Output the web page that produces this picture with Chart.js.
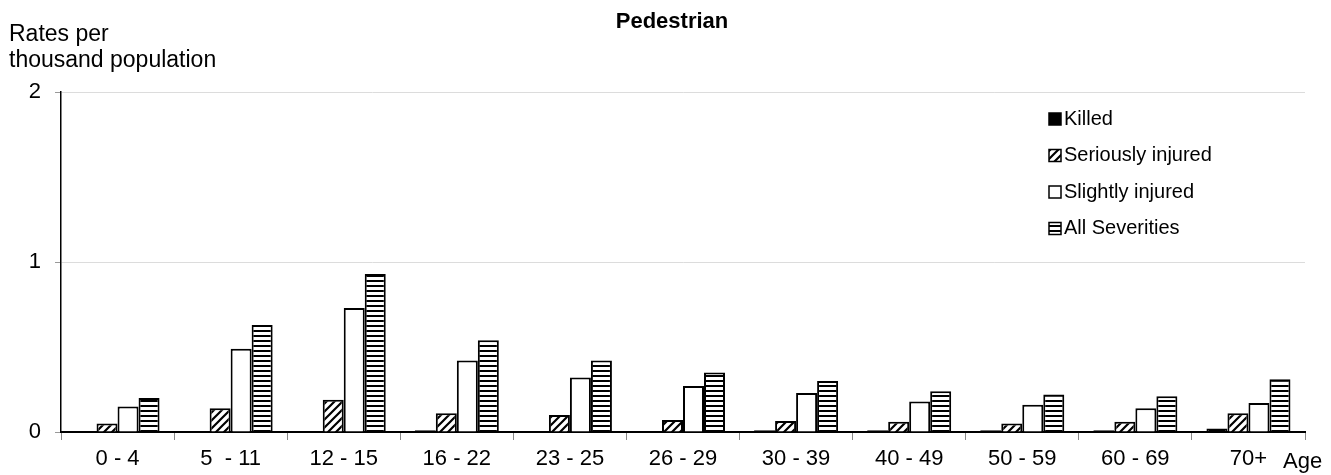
<!DOCTYPE html>
<html>
<head>
<meta charset="utf-8">
<script src="https://cdn.jsdelivr.net/npm/chart.js@4"></script>
<style>
  html, body { margin: 0; padding: 0; background: #fff; }
  #wrap { width: 1331px; height: 475px; }
</style>
</head>
<body>
<div id="wrap"><canvas id="PedChart" width="1331" height="475"></canvas></div>
<script>
const ageGroups = ['0 - 4', '5  - 11', '12 - 15', '16 - 22', '23 - 25', '26 - 29',
  '30 - 39', '40 - 49', '50 - 59', '60 - 69', '70+'];
const killed   = [0, 0, 0, 0.01, 0, 0, 0.01, 0.01, 0.01, 0.01, 0.02];
const serious  = [0.05, 0.14, 0.19, 0.11, 0.10, 0.07, 0.065, 0.06, 0.05, 0.06, 0.11];
const slight   = [0.15, 0.49, 0.73, 0.42, 0.32, 0.27, 0.23, 0.18, 0.16, 0.14, 0.17];
const allSev   = [0.20, 0.63, 0.93, 0.54, 0.42, 0.35, 0.30, 0.24, 0.22, 0.21, 0.31];
const yTicks   = [0, 1, 2];

const FONT = '"Liberation Sans", Arial, sans-serif';

function hatchPattern() {
  const c = document.createElement('canvas');
  c.width = 8; c.height = 8;
  const g = c.getContext('2d');
  g.fillStyle = '#fff'; g.fillRect(0, 0, 8, 8);
  g.strokeStyle = '#000'; g.lineWidth = 2.2;
  g.beginPath();
  g.moveTo(-2, 10); g.lineTo(10, -2);
  g.moveTo(-2, 2); g.lineTo(2, -2);
  g.moveTo(6, 10); g.lineTo(10, 6);
  g.stroke();
  return g.createPattern(c, 'repeat');
}

function stripePattern() {
  const c = document.createElement('canvas');
  c.width = 5; c.height = 5;
  const g = c.getContext('2d');
  g.fillStyle = '#fff'; g.fillRect(0, 0, 5, 5);
  g.fillStyle = '#000'; g.fillRect(0, 0, 5, 2);
  return g.createPattern(c, 'repeat');
}

const ctx = document.getElementById('PedChart').getContext('2d');
const hatch = hatchPattern();
const stripes = stripePattern();

// legend, title and axis captions
const textPlugin = {
  id: 'texts',
  afterDraw(chart) {
    const g = chart.ctx;
    g.save();
    g.fillStyle = '#000';
    g.textBaseline = 'middle';
    g.font = 'bold 22px ' + FONT;
    g.textAlign = 'center';
    g.fillText('Pedestrian', 672, 22);
    g.font = '23px ' + FONT;
    g.textAlign = 'left';
    g.fillText('Rates per', 9, 35);
    g.fillText('thousand population', 9, 61);
    g.font = '22px ' + FONT;
    g.fillText('Age', 1283, 462);

    g.font = '20px ' + FONT;
    const ds = chart.data.datasets;
    ds.forEach((d, i) => {
      const y = 119 + i * 36.5;
      g.fillStyle = d.backgroundColor;
      g.fillRect(1049, y - 6, 12, 12);
      g.strokeStyle = '#000';
      g.lineWidth = 1.5;
      g.strokeRect(1049, y - 6, 12, 12);
      g.fillStyle = '#000';
      g.fillText(d.label, 1064, y);
    });
    g.restore();
  }
};

const data = {
  labels: ageGroups,
  datasets: [
    { label: 'Killed', data: killed, backgroundColor: '#000' },
    { label: 'Seriously injured', data: serious, backgroundColor: hatch },
    { label: 'Slightly injured', data: slight, backgroundColor: '#fff' },
    { label: 'All Severities', data: allSev, backgroundColor: stripes }
  ].map(d => Object.assign(d, {
    borderColor: '#000',
    borderWidth: 2,
    categoryPercentage: 0.743,
    barPercentage: 1
  }))
};

const config = {
  type: 'bar',
  data: data,
  options: {
    responsive: false,
    animation: false,
    layout: { padding: { left: 0, right: 26, top: 92, bottom: 0 } },
    plugins: {
      legend: { display: false },
      title: { display: false },
      tooltip: { enabled: false }
    },
    scales: {
      x: {
        afterFit: s => { s.height = 43; },
        grid: { offset: true, drawOnChartArea: false, color: '#888', tickLength: 8 },
        border: { color: '#000', width: 2 },
        ticks: { color: '#000', font: { family: FONT, size: 22 }, padding: 6, maxRotation: 0 }
      },
      y: {
        min: 0,
        max: 2,
        afterFit: s => { s.width = 61; },
        afterBuildTicks: s => { s.ticks = yTicks.map(v => ({ value: v })); },
        grid: { color: '#dcdcdc', tickColor: '#999', tickLength: 6 },
        border: { color: '#000', width: 1.5 },
        ticks: { color: '#000', font: { family: FONT, size: 22 }, padding: 14 }
      }
    }
  },
  plugins: [textPlugin]
};

const pedChart = new Chart(ctx, config);
</script>
</body>
</html>
